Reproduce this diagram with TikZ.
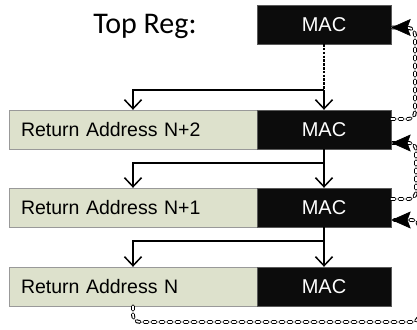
\documentclass[tikz,border=0pt]{standalone}
\usepackage{fontspec}
\setmainfont{Liberation Sans}
\newfontfamily\calibrifont{Carlito}
\usetikzlibrary{arrows.meta,calc}
\definecolor{beige}{RGB}{221,225,204}
\definecolor{macblk}{RGB}{12,12,12}
\begin{document}
\begin{tikzpicture}[x=1pt,y=-1pt,
  macbox/.style={draw=gray!70!black, fill=macblk, text=white, minimum width=134pt, minimum height=39pt, inner sep=0pt, font=\fontsize{20}{21}\selectfont},
  rabox/.style={draw=gray!80, fill=beige, minimum width=248pt, minimum height=39pt, inner xsep=12pt, inner ysep=0pt, text width=224pt, align=left, font=\fontsize{19.5}{20}\selectfont},
  flow/.style={line width=1.5pt, -{Straight Barb[length=9pt,width=17pt,line width=1.5pt]}},
  dotline/.style={line width=1.5pt, dash pattern=on 2.5pt off 1.3pt},
  loopdash/.style={line width=1.1pt, double=white, double distance=1.6pt, line cap=round, dash pattern=on 3.5pt off 4.5pt, rounded corners=7pt},
  loophead/.style={fill=black, draw=black, line width=0.6pt, line join=miter}
]
\useasboundingbox (0,0) rectangle (417,329);
\node[font=\calibrifont\fontsize{30}{32}\selectfont, anchor=base] (topreg) at (145,34) {Top Reg:};
\node[macbox] (topmac) at (324,24.5) {MAC};
\node[rabox] (ra2) at (133,129.5) {Return Address N+2};
\node[macbox] (mac2) at (324,129.5) {MAC};
\node[rabox] (ra1) at (133,207.5) {Return Address N+1};
\node[macbox] (mac1) at (324,207.5) {MAC};
\node[rabox] (ra0) at (133,286.5) {Return Address N};
\node[macbox] (mac0) at (324,286.5) {MAC};
\coordinate (j0) at (324,90);
\coordinate (j1) at (324,163);
\coordinate (j2) at (324,241);
\draw[dotline] (topmac.south) -- (j0);
\draw[flow] (j0) -- (mac2.north);
\draw[flow] (j0) -| (ra2.north);
\draw[flow] (mac2.south) -- (mac1.north);
\draw[flow] (j1) -| (ra1.north);
\draw[flow] (mac1.south) -- (mac0.north);
\draw[flow] (j2) -| (ra0.north);
% loops
\coordinate (a0) at ($(mac2.east)+(0,-10.5)$);
\coordinate (a1) at ($(topmac.east)+(1,3)$);
\draw[loopdash] (a0) -- (415,119) -- (415,28) -- (a1);
\path[loophead] (a1) -- ++(18,-8) -- ++(-3,8) -- ++(3,8) -- cycle;
\coordinate (b0) at ($(mac1.east)+(0,-8.5)$);
\coordinate (b1) at ($(mac2.east)+(1,13.5)$);
\draw[loopdash] (b0) -- (416,199) -- (416,143) -- (b1);
\path[loophead] (b1) -- ++(18,-8) -- ++(-3,8) -- ++(3,8) -- cycle;
\coordinate (c1) at ($(mac1.east)+(1,12.5)$);
\draw[loopdash] (ra0.south) -- (133,322) -- (419,322) -- (419,220) -- (c1);
\path[loophead] (c1) -- ++(18,-8) -- ++(-3,8) -- ++(3,8) -- cycle;
\end{tikzpicture}
\end{document}
